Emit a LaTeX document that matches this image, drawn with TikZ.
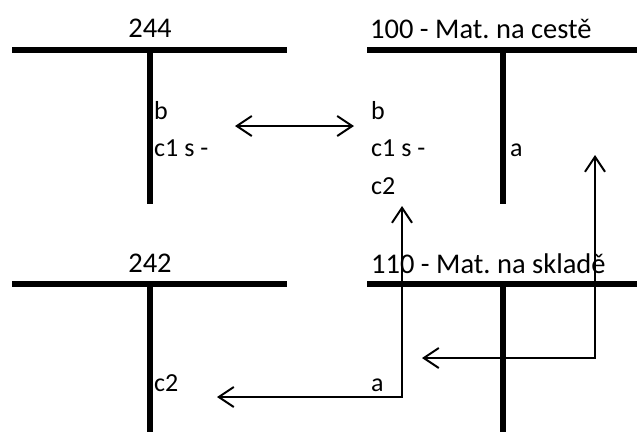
\documentclass[tikz,border=0pt]{standalone}
\usepackage{fontspec}
\setmainfont{Carlito}
\usetikzlibrary{arrows.meta}
\frenchspacing
\begin{document}
\begin{tikzpicture}[x=1pt,y=-1pt,
  bar/.style={line width=5.5pt},
  conn/.style={line width=2pt,{Straight Barb[length=15pt,width=20pt]}-{Straight Barb[length=15pt,width=20pt]}},
  title/.style={font=\fontsize{28.5}{28.5}\selectfont,inner sep=0pt},
  lbl/.style={font=\fontsize{26}{26}\selectfont,inner sep=0pt,anchor=base west}]
\useasboundingbox (0,0) rectangle (637,432);
% T accounts
\draw[bar] (12,50) -- (287,50) (150,50) -- (150,204);
\draw[bar] (367,50) -- (637,50) (503,50) -- (503,204);
\draw[bar] (12,284) -- (287,284) (150,284) -- (150,432);
\draw[bar] (367,284) -- (637,284) (503,284) -- (503,432);
% titles
\node[title,anchor=base] (t244) at (150,37) {244};
\node[title,anchor=base west] (t100) at (370,38) {100 - Mat. na cestě};
\node[title,anchor=base] (t242) at (150,272) {242};
\node[title,anchor=base west] (t110) at (371,273) {110 - Mat. na skladě};
% entries
\node[lbl] (b1) at (154,119) {b};
\node[lbl] (c1a) at (154,156) {c1 s -};
\node[lbl] (b2) at (371,119) {b};
\node[lbl] (c1b) at (371,156) {c1 s -};
\node[lbl] (c2b) at (371,194) {c2};
\node[lbl] (a2) at (510,156) {a};
\node[lbl] (c2c) at (154,391) {c2};
\node[lbl] (a4) at (371,391) {a};
% connectors
\coordinate (d1) at (235,126);
\coordinate (d2) at (354,126);
\coordinate (p2a) at (217,397);
\coordinate (p2c) at (402,397);
\coordinate (p2b) at (402,206);
\coordinate (p3a) at (422,358);
\coordinate (p3c) at (595,358);
\coordinate (p3b) at (595,155);
\draw[conn] (d1) -- (d2);
\draw[conn] (p2a) -- (p2c) -- (p2b);
\draw[conn] (p3a) -- (p3c) -- (p3b);
\end{tikzpicture}
\end{document}
